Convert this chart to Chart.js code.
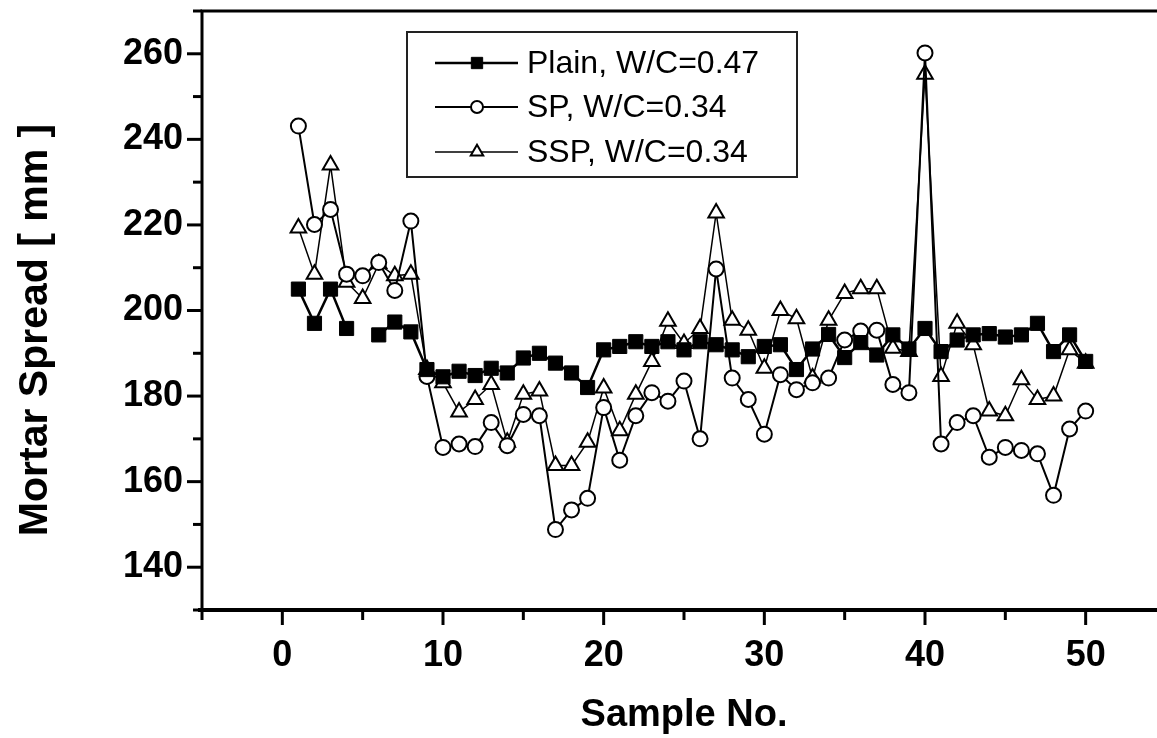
<!DOCTYPE html>
<html>
<head>
<meta charset="utf-8">
<script src="https://cdn.jsdelivr.net/npm/chart.js@4.4.0/dist/chart.umd.min.js"></script>
<style>
  html, body { margin: 0; padding: 0; background: #fff; overflow: hidden; }
  #wrap { position: absolute; left: 0; top: 0; width: 1180px; height: 738px; }
</style>
</head>
<body>
<div id="wrap"><canvas id="chartSpread"></canvas></div>
<script>
// sample numbers
const sampleNo = [1, 2, 3, 4, 5, 6, 7, 8, 9, 10, 11, 12, 13, 14, 15, 16, 17, 18, 19, 20,
    21, 22, 23, 24, 25, 26, 27, 28, 29, 30, 31, 32, 33, 34, 35, 36, 37, 38, 39, 40,
    41, 42, 43, 44, 45, 46, 47, 48, 49, 50];

// mortar spread [mm]
const plain = [205, 197, 205, 195.8, null, 194.3, 197.3, 195, 186.2, 184.5,
    185.8, 184.8, 186.5, 185.4, 188.9, 190, 187.7, 185.4, 182, 190.8,
    191.6, 192.7, 191.6, 192.7, 190.8, 192.7, 192, 190.8, 189.2, 191.6,
    192, 186.2, 191, 194.4, 189, 192.5, 189.6, 194.3, 191, 195.8,
    190.4, 193.1, 194.3, 194.6, 193.8, 194.3, 197, 190.4, 194.3, 188.1];

const sp = [243.1, 220.1, 223.6, 208.5, 208.1, 211.2, 204.7, 220.9, 184.6, 168,
    168.8, 168.2, 173.8, 168.4, 175.7, 175.4, 148.8, 153.4, 156.1, 177.3,
    165, 175.4, 180.8, 178.8, 183.5, 170, 209.7, 184.2, 179.2, 171.1,
    185, 181.5, 183.1, 184.2, 193.1, 195.2, 195.4, 182.7, 180.8, 260.2,
    168.8, 173.8, 175.4, 165.7, 168, 167.3, 166.5, 156.8, 172.3, 176.5];

const ssp = [219.3, 208.5, 234, 206.6, 202.8, 210.9, 208.1, 208.5, 186.2, 183.1,
    176.3, 179.2, 182.7, 169.2, 180.4, 181.2, 163.8, 163.8, 169.2, 181.9,
    171.9, 180.4, 188.1, 197.5, 192.3, 195.8, 222.8, 197.7, 195.4, 186.5,
    200, 198.1, 184.2, 197.7, 204, 205.1, 205.1, 191.2, 190.4, 255.2,
    184.6, 197, 192, 176.5, 175.4, 183.8, 179.2, 180, 190.8, 187.7];

const seriesLabels = ['Plain, W/C=0.47', 'SP, W/C=0.34', 'SSP, W/C=0.34'];
const xTicks = [0, 10, 20, 30, 40, 50];
const yTicks = [140, 160, 180, 200, 220, 240, 260];
const yTitle = 'Mortar Spread [ mm ]';

function toPoints(values) {
    return sampleNo.map(function (n, i) { return { x: n, y: values[i] }; });
}

const FONT = "'Liberation Sans', Arial, Helvetica, sans-serif";

// axis frame, tick marks, y title and boxed legend
const framePlugin = {
    id: 'frame',
    afterDraw: function (chart) {
        const ctx = chart.ctx;
        const a = chart.chartArea;
        const xs = chart.scales.x, ys = chart.scales.y;
        ctx.save();
        ctx.strokeStyle = '#000';
        ctx.lineCap = 'butt';

        // ticks on y
        ctx.lineWidth = 3;
        for (let v = 130; v <= 270; v += 10) {
            const py = ys.getPixelForValue(v);
            const len = (v % 20 === 0) ? 15 : 9;
            ctx.beginPath();
            ctx.moveTo(a.left - len, py);
            ctx.lineTo(a.left, py);
            ctx.stroke();
        }
        // ticks on x
        for (let v = -5; v <= 55; v += 5) {
            const px = xs.getPixelForValue(v);
            const len = (v % 10 === 0) ? 15 : 10;
            ctx.beginPath();
            ctx.moveTo(px, a.bottom);
            ctx.lineTo(px, a.bottom + len);
            ctx.stroke();
        }

        // frame
        ctx.lineWidth = 3;
        ctx.beginPath();
        ctx.moveTo(a.left, a.bottom);
        ctx.lineTo(a.left, a.top);
        ctx.lineTo(a.right, a.top);
        ctx.lineTo(a.right, a.bottom);
        ctx.stroke();
        ctx.lineWidth = 4;
        ctx.beginPath();
        ctx.moveTo(a.left - 4, a.bottom);
        ctx.lineTo(a.right, a.bottom);
        ctx.stroke();

        // y title (sits a little below the axis centre in the original)
        ctx.save();
        ctx.translate(36, 330);
        ctx.rotate(-Math.PI / 2);
        ctx.fillStyle = '#000';
        ctx.font = 'bold 41px ' + FONT;
        ctx.textAlign = 'center';
        ctx.textBaseline = 'middle';
        ctx.fillText(yTitle, 0, 0);
        ctx.restore();

        // legend
        const bx = 407, by = 32, bw = 390, bh = 145;
        ctx.fillStyle = '#fff';
        ctx.fillRect(bx, by, bw, bh);
        ctx.lineWidth = 2;
        ctx.strokeStyle = '#222';
        ctx.strokeRect(bx, by, bw, bh);

        const rows = [63, 107, 152];
        chart.data.datasets.forEach(function (ds, i) {
            const ry = rows[i];
            ctx.strokeStyle = '#000';
            ctx.lineWidth = ds.borderWidth;
            ctx.beginPath();
            ctx.moveTo(435, ry);
            ctx.lineTo(518, ry);
            ctx.stroke();
            ctx.fillStyle = ds.pointBackgroundColor;
            ctx.strokeStyle = '#000';
            ctx.lineWidth = ds.pointBorderWidth;
            Chart.helpers.drawPoint(ctx, {
                pointStyle: ds.pointStyle,
                radius: ds.pointRadius * 0.8,
                rotation: 0,
                borderWidth: ds.pointBorderWidth
            }, 477, ry);
            ctx.fillStyle = '#000';
            ctx.font = '32px ' + FONT;
            ctx.textBaseline = 'middle';
            ctx.textAlign = 'left';
            ctx.fillText(ds.label, 527, ry + 1);
        });
        ctx.restore();
    }
};

function noPad(scale) {
    scale.paddingTop = 0;
    scale.paddingBottom = 0;
    scale.paddingLeft = 0;
    scale.paddingRight = 0;
}

const canvas = document.getElementById('chartSpread');
new Chart(canvas.getContext('2d'), {
    type: 'line',
    data: {
        datasets: [{
            label: seriesLabels[0],
            data: toPoints(plain),
            borderColor: '#000',
            borderWidth: 2.5,
            pointStyle: 'rect',
            pointRadius: 10,
            pointBackgroundColor: '#000',
            pointBorderColor: '#000',
            pointBorderWidth: 1,
            spanGaps: false,
            order: 0
        }, {
            label: seriesLabels[1],
            data: toPoints(sp),
            borderColor: '#000',
            borderWidth: 2,
            pointStyle: 'circle',
            pointRadius: 7.5,
            pointBackgroundColor: '#fff',
            pointBorderColor: '#000',
            pointBorderWidth: 2,
            order: 1
        }, {
            label: seriesLabels[2],
            data: toPoints(ssp),
            borderColor: '#000',
            borderWidth: 1.5,
            pointStyle: 'triangle',
            pointRadius: 9,
            pointBackgroundColor: '#fff',
            pointBorderColor: '#000',
            pointBorderWidth: 2,
            order: 2
        }]
    },
    options: {
        responsive: true,
        maintainAspectRatio: false,
        animation: false,
        layout: { padding: { left: 0, top: 9, right: 14, bottom: 0 } },
        plugins: {
            legend: { display: false },
            tooltip: { enabled: false }
        },
        elements: { line: { tension: 0 } },
        scales: {
            x: {
                type: 'linear',
                min: -5,
                max: 55,
                grid: { display: false, drawTicks: false },
                border: { display: false },
                afterBuildTicks: function (scale) {
                    scale.ticks = xTicks.map(function (v) { return { value: v }; });
                },
                afterFit: function (scale) { scale.height = 128; noPad(scale); },
                ticks: {
                    color: '#000',
                    padding: 24,
                    maxRotation: 0,
                    font: { family: FONT, size: 36, weight: 'bold' }
                },
                title: {
                    display: true,
                    text: 'Sample No.',
                    color: '#000',
                    padding: { top: 0, bottom: 0 },
                    font: { family: FONT, size: 38, weight: 'bold' }
                }
            },
            y: {
                min: 130,
                max: 270,
                grid: { display: false, drawTicks: false },
                border: { display: false },
                afterBuildTicks: function (scale) {
                    scale.ticks = yTicks.map(function (v) { return { value: v }; });
                },
                afterFit: function (scale) { scale.width = 202; noPad(scale); },
                ticks: {
                    color: '#000',
                    padding: 19,
                    font: { family: FONT, size: 36, weight: 'bold' }
                },
                title: { display: false }
            }
        }
    },
    plugins: [framePlugin]
});
</script>
</body>
</html>
